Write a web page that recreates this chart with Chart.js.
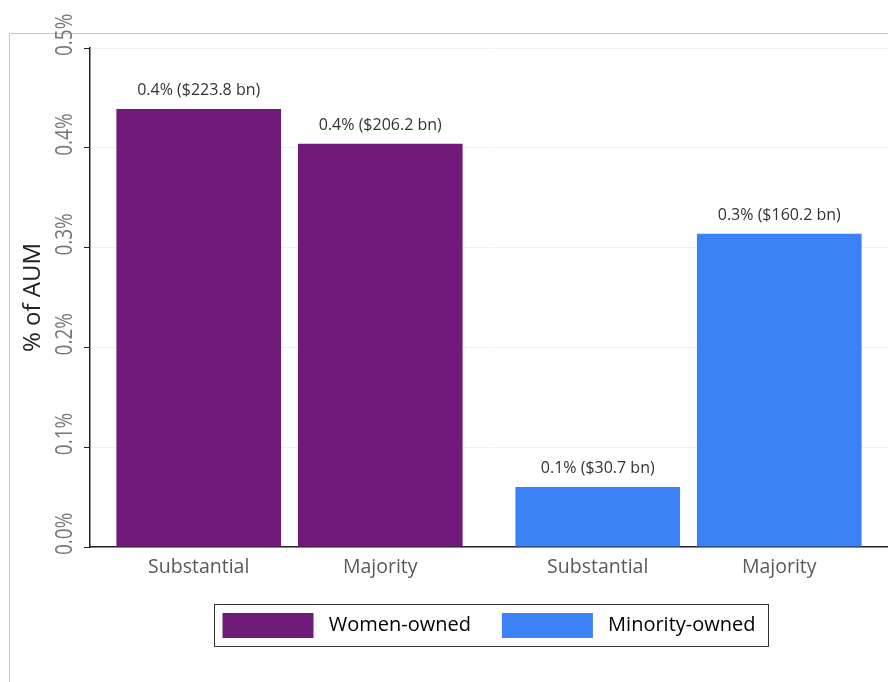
<!DOCTYPE html>
<html>
<head>
<meta charset="utf-8">
<script src="https://cdn.jsdelivr.net/npm/chart.js@4.4.1/dist/chart.umd.min.js"></script>
<style>
  html, body { margin: 0; padding: 0; background: #fff; }
  #wrap { width: 888px; height: 682px; position: relative; }
</style>
</head>
<body>
<div id="wrap"><canvas id="aumChart"></canvas></div>
<script>
// Groupes (couleur) et niveaux de détention (barres)
const groups = ['Women-owned', 'Minority-owned'];
const levels = ['Substantial', 'Majority'];
const groupColors = ['#701a7a', '#3b82f6'];

// % of AUM par niveau, un élément par groupe
const substantialPct = [0.439, 0.060];
const majorityPct = [0.404, 0.314];

// Montants en milliards de dollars (étiquettes)
const substantialBn = [223.8, 30.7];
const majorityBn = [206.2, 160.2];

const yTicks = [0, 0.1, 0.2, 0.3, 0.4, 0.5];

const FONT = "'Open Sans', 'Noto Sans', sans-serif";
const amounts = [substantialBn, majorityBn];

// Cadre gris, étiquettes, axe Y tourné, bordure de légende
const decorPlugin = {
  id: 'decor',
  beforeDraw(chart) {
    const ctx = chart.ctx;
    ctx.save();
    ctx.strokeStyle = '#c8c8c8';
    ctx.lineWidth = 1;
    ctx.beginPath();
    ctx.moveTo(9.5, chart.height);
    ctx.lineTo(9.5, 33.5);
    ctx.lineTo(chart.width, 33.5);
    ctx.stroke();
    ctx.restore();
  },
  afterDraw(chart) {
    const ctx = chart.ctx;
    const y = chart.scales.y;
    const area = chart.chartArea;
    ctx.save();

    // Valeurs au-dessus des barres + noms des niveaux sous l'axe
    chart.data.datasets.forEach((ds, di) => {
      const meta = chart.getDatasetMeta(di);
      meta.data.forEach((bar, i) => {
        const v = ds.data[i];
        ctx.fillStyle = '#333';
        ctx.font = '16px ' + FONT;
        ctx.textAlign = 'center';
        ctx.textBaseline = 'alphabetic';
        ctx.fillText(v.toFixed(1) + '% ($' + amounts[di][i].toFixed(1) + ' bn)', bar.x, bar.y - 14);

        ctx.fillStyle = '#595959';
        ctx.font = '19.5px ' + FONT;
        ctx.fillText(levels[di], bar.x, area.bottom + 26);
      });
    });

    // Graduations Y, texte vertical étiré
    ctx.fillStyle = '#777';
    ctx.font = '19px ' + FONT;
    ctx.textAlign = 'left';
    ctx.textBaseline = 'alphabetic';
    y.ticks.forEach(t => {
      const py = y.getPixelForValue(t.value);
      ctx.save();
      ctx.translate(72, py + 8);
      ctx.rotate(-Math.PI / 2);
      ctx.scale(1, 1.25);
      ctx.fillText(t.value.toFixed(1) + '%', 0, 0);
      ctx.restore();
    });

    // Titre de l'axe Y
    ctx.save();
    ctx.fillStyle = '#222';
    ctx.font = '24px ' + FONT;
    ctx.textAlign = 'center';
    ctx.translate(40, (area.top + area.bottom) / 2);
    ctx.rotate(-Math.PI / 2);
    ctx.fillText('% of AUM', 0, 0);
    ctx.restore();

    // Cadre de la légende
    const boxes = chart.legend.legendHitBoxes;
    if (boxes && boxes.length) {
      const first = boxes[0];
      const last = boxes[boxes.length - 1];
      const x0 = first.left - 9;
      const x1 = last.left + last.width + 12;
      const y0 = first.top - 9;
      const y1 = first.top + first.height + 8;
      ctx.strokeStyle = '#333';
      ctx.lineWidth = 1;
      ctx.strokeRect(Math.round(x0) + 0.5, Math.round(y0) + 0.5, Math.round(x1 - x0), Math.round(y1 - y0));
    }
    ctx.restore();
  }
};

new Chart(document.getElementById('aumChart'), {
  type: 'bar',
  data: {
    labels: groups,
    datasets: [
      {
        label: levels[0],
        data: substantialPct,
        backgroundColor: groupColors,
        categoryPercentage: 0.91,
        barPercentage: 0.907
      },
      {
        label: levels[1],
        data: majorityPct,
        backgroundColor: groupColors,
        categoryPercentage: 0.91,
        barPercentage: 0.907
      }
    ]
  },
  options: {
    responsive: true,
    maintainAspectRatio: false,
    animation: false,
    layout: { padding: { top: 48, right: 0, bottom: 34, left: 0 } },
    plugins: {
      tooltip: { enabled: false },
      legend: {
        position: 'bottom',
        fullSize: false,
        labels: {
          boxWidth: 91,
          boxHeight: 25,
          padding: 31,
          color: '#222',
          font: { family: FONT, size: 20 },
          generateLabels: () => groups.map((g, i) => ({
            text: ' ' + g,
            fillStyle: groupColors[i],
            strokeStyle: groupColors[i],
            lineWidth: 0,
            hidden: false,
            datasetIndex: i
          }))
        },
        onClick: () => {}
      }
    },
    scales: {
      x: {
        grid: { display: false },
        border: { color: '#222', width: 1.5 },
        ticks: { display: false },
        afterFit(scale) { scale.height = 35; }
      },
      y: {
        min: 0,
        max: 0.5,
        afterBuildTicks(scale) { scale.ticks = yTicks.map(v => ({ value: v })); },
        ticks: { display: false },
        grid: {
          color: '#eef2f5',
          tickColor: '#222',
          tickLength: 6,
          drawTicks: true
        },
        border: { color: '#222', width: 1.5 },
        afterFit(scale) { scale.width = 90; }
      }
    }
  },
  plugins: [decorPlugin]
});
</script>
</body>
</html>
